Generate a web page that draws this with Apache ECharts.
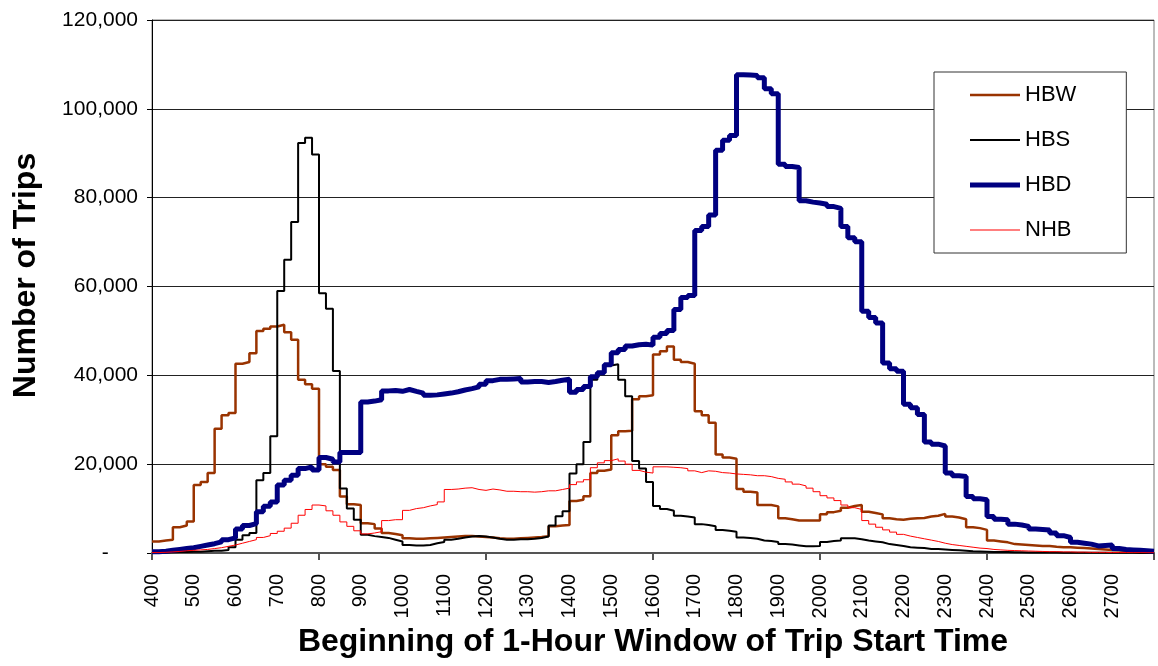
<!DOCTYPE html>
<html>
<head>
<meta charset="utf-8">
<title>Trips by start time</title>
<script src="https://cdn.jsdelivr.net/npm/echarts@6/dist/echarts.min.js"></script>
<style>
  html, body { margin: 0; padding: 0; background: #fff; }
  #chart { width: 1158px; height: 666px; }
</style>
</head>
<body>
<div id="chart"></div>
<script>
// x categories: start of 1-hour window, HHMM style, every 10 minutes from 400 to 2800
const times = [];
for (let h = 4; h <= 28; h++) {
  for (let m = 0; m < 60; m += 10) {
    if (h === 28 && m > 0) break;
    times.push(String(h * 100 + m));
  }
}

// y axis ticks
const yTicks = [0, 20000, 40000, 60000, 80000, 100000, 120000];

// trips per window, one row per hour (6 x 10 minutes)
const hbw = [
  2600, 2800, 3000, 5800, 6200, 7100,
  15300, 16000, 18000, 28000, 31000, 31500,
  42600, 43000, 45000, 50000, 50500, 51000,
  51400, 49700, 48000, 39000, 38000, 37000,
  20000, 19400, 18700, 12700, 11000, 10800,
  6700, 6500, 5500, 4500, 4300, 4000,
  3300, 3200, 3200, 3300, 3400, 3500,
  3600, 3700, 3800, 3800, 3700, 3600,
  3500, 3300, 3200, 3200, 3300, 3400,
  3500, 3600, 3800, 6000, 6200, 6300,
  11700, 12000, 12800, 18000, 18500, 18800,
  26500, 27400, 27500, 34600, 35300, 35500,
  44700, 45400, 46500, 43500, 43000, 42600,
  31900, 31000, 29300, 22200, 21500, 21200,
  14400, 13800, 13600, 10800, 10800, 10500,
  7800, 7600, 7300, 7300, 7300, 7300,
  8700, 9200, 9500, 10200, 10600, 10800,
  9300, 9000, 8700, 7800, 7600, 7500,
  7700, 7800, 7900, 8200, 8400, 8800,
  8200, 8000, 7600, 5800, 5600, 5200,
  2800, 2600, 2400, 2000, 1900, 1800,
  1700, 1600, 1600, 1400, 1300, 1300,
  1200, 1100, 1000, 900, 800, 700,
  600, 500, 400, 300, 300, 200,
  200
];

const hbs = [
  100, 100, 150, 200, 200, 300,
  300, 400, 500, 500, 700, 1300,
  3000, 4000, 4500, 16400, 18000, 26300,
  59000, 66000, 74500, 92300, 93500, 89700,
  58500, 55000, 41000, 14500, 10000, 7500,
  4100, 3800, 3600, 3400, 3000, 2600,
  1800, 1700, 1700, 1800, 2200, 2500,
  3000, 3200, 3500, 3700, 3800, 3700,
  3500, 3200, 3000, 3000, 3100, 3100,
  3200, 3400, 3700, 6200, 8300, 9400,
  17900, 20000, 25000, 39000, 40500, 42200,
  42500, 39000, 35300, 20700, 19000, 16000,
  10600, 9900, 9500, 8400, 8200, 8000,
  6500, 6300, 6000, 5200, 5000, 4800,
  3500, 3400, 3200, 2800, 2700, 2500,
  2000, 1900, 1700, 1500, 1500, 1600,
  2500, 2700, 2800, 3300, 3300, 3100,
  2800, 2600, 2400, 2000, 1800, 1600,
  1300, 1200, 1100, 900, 900, 800,
  700, 600, 500, 400, 350, 300,
  250, 200, 200, 150, 150, 100,
  100, 100, 100, 100, 80, 80,
  60, 60, 50, 50, 50, 40,
  40, 30, 30, 20, 20, 20,
  10
];

const hbd = [
  300, 400, 600, 800, 1000, 1200,
  1500, 1800, 2100, 2500, 3000, 3400,
  5400, 6200, 6600, 9300, 10500, 11500,
  15300, 16400, 17500, 19000, 19400, 18700,
  21500, 21100, 20500, 22600, 22600, 22600,
  34000, 34200, 34500, 36500, 36600, 36400,
  36800, 36400, 36000, 35500, 35600, 35800,
  36000, 36300, 36700, 37000, 37400, 38000,
  38800, 39100, 39100, 39200, 39300, 38500,
  38600, 38600, 38400, 38600, 38900, 39100,
  36200, 36800, 37500, 39700, 40600, 42400,
  45100, 45800, 46600, 46900, 47000, 46800,
  48600, 49400, 50100, 54800, 57500, 58000,
  72600, 73500, 76100, 90700, 92900, 94000,
  107700, 107600, 107500, 107000, 104500, 103400,
  87500, 87000, 86800, 79300, 79000, 78800,
  78500, 78000, 77600, 73500, 71000, 70100,
  54400, 53000, 51800, 42800, 41500, 40900,
  33500, 32700, 31200, 25000, 24500, 24100,
  18000, 17400, 17200, 12700, 12200, 12000,
  8200, 7600, 7500, 6500, 6300, 6000,
  5400, 5300, 5200, 4500, 3900, 3500,
  2400, 2200, 2000, 1600, 1700, 1800,
  1000, 800, 700, 600, 500, 400,
  300
];

const nhb = [
  100, 150, 250, 350, 500, 600,
  700, 800, 1000, 1200, 1500, 1800,
  2200, 2600, 3000, 3500, 3900, 4400,
  4900, 5600, 6700, 8500, 9800, 10800,
  10600, 9500, 8500, 7000, 6000, 5000,
  4300, 4500, 4800, 7300, 7500, 7500,
  9600, 10000, 10200, 10600, 10900, 11500,
  14300, 14400, 14600, 14700, 14300, 14100,
  14400, 14200, 13900, 13900, 13800, 13800,
  13700, 13800, 14000, 14000, 14300, 14600,
  15400, 16000, 16500, 19200, 20300, 20800,
  21200, 20700, 20000, 18600, 18200, 18000,
  19400, 19400, 19300, 19200, 19000, 18500,
  18100, 18500, 18400, 18100, 18000, 17800,
  17700, 17600, 17400, 17400, 17200, 16800,
  16600, 16000, 15500, 15100, 14600, 13800,
  12900, 12400, 11800, 10800, 10200, 9800,
  7300, 6500, 5800, 5200, 4700, 4200,
  3800, 3500, 3200, 2900, 2600, 2200,
  1900, 1700, 1500, 1300, 1100, 1000,
  800, 700, 600, 550, 500, 450,
  400, 350, 300, 300, 250, 250,
  200, 200, 150, 150, 150, 100,
  100, 100, 80, 80, 60, 50,
  50
];

const font = "'Liberation Sans', Arial, sans-serif";

function fmtThousands(v) {
  if (v === 0) return '-     ';
  return String(v).replace(/\B(?=(\d{3})+(?!\d))/g, ',');
}

// plain line swatch for the legend, thickness matches the series
function lineIcon(w) {
  return 'path://M0 0H50V' + w + 'H0Z';
}

function stepLine(name, data, color, width) {
  return {
    name: name,
    type: 'line',
    step: 'end',
    data: data,
    symbol: 'none',
    lineStyle: { color: color, width: width },
    itemStyle: { color: color },
    animation: false
  };
}

const chart = echarts.init(document.getElementById('chart'), null, { renderer: 'canvas' });

chart.setOption({
  backgroundColor: '#fff',
  textStyle: { fontFamily: font },
  grid: {
    left: 152, right: 4, top: 20, bottom: 113,
    show: true, borderColor: '#777', borderWidth: 1
  },
  legend: {
    orient: 'vertical',
    left: 934, top: 72,
    padding: [12, 50, 12, 36],
    itemWidth: 50, itemHeight: 22, itemGap: 23,
    symbolKeepAspect: true,
    borderColor: '#333', borderWidth: 1,
    backgroundColor: '#fff',
    textStyle: { fontSize: 22, color: '#000', fontFamily: font },
    data: [
      { name: 'HBW', icon: lineIcon(2.5) },
      { name: 'HBS', icon: lineIcon(2) },
      { name: 'HBD', icon: lineIcon(5) },
      { name: 'NHB', icon: lineIcon(1) }
    ]
  },
  xAxis: {
    type: 'category',
    data: times,
    boundaryGap: false,
    name: 'Beginning of 1-Hour Window of Trip Start Time',
    nameLocation: 'middle',
    nameGap: 72,
    nameTextStyle: { fontSize: 32, fontWeight: 'bold', color: '#000', fontFamily: font },
    axisLine: { lineStyle: { color: '#555', width: 2 } },
    axisTick: {
      show: true,
      alignWithLabel: true,
      length: 7,
      interval: function (i) { return i % 24 === 0; },
      lineStyle: { color: '#555', width: 2 }
    },
    axisLabel: {
      rotate: 90,
      fontSize: 20,
      color: '#000',
      margin: 21,
      fontFamily: font,
      interval: function (i) { return i % 6 === 0 && i < times.length - 1; }
    },
    splitLine: { show: false }
  },
  yAxis: {
    type: 'value',
    min: yTicks[0],
    max: yTicks[yTicks.length - 1],
    interval: 20000,
    name: 'Number of Trips',
    nameLocation: 'middle',
    nameGap: 110,
    nameTextStyle: { fontSize: 32, fontWeight: 'bold', color: '#000', fontFamily: font, padding: [0, 0, 0, 22] },
    axisLine: { show: true, lineStyle: { color: '#000', width: 1 } },
    axisTick: { show: true, length: 5, lineStyle: { color: '#000' } },
    axisLabel: { fontSize: 21, color: '#000', margin: 14, fontFamily: font, formatter: fmtThousands },
    splitLine: { lineStyle: { color: '#222', width: 1 } }
  },
  series: [
    stepLine('HBW', hbw, '#993300', 2.5),
    stepLine('HBS', hbs, '#000000', 2),
    stepLine('HBD', hbd, '#000080', 5),
    stepLine('NHB', nhb, '#ff0000', 1)
  ]
});
</script>
</body>
</html>
